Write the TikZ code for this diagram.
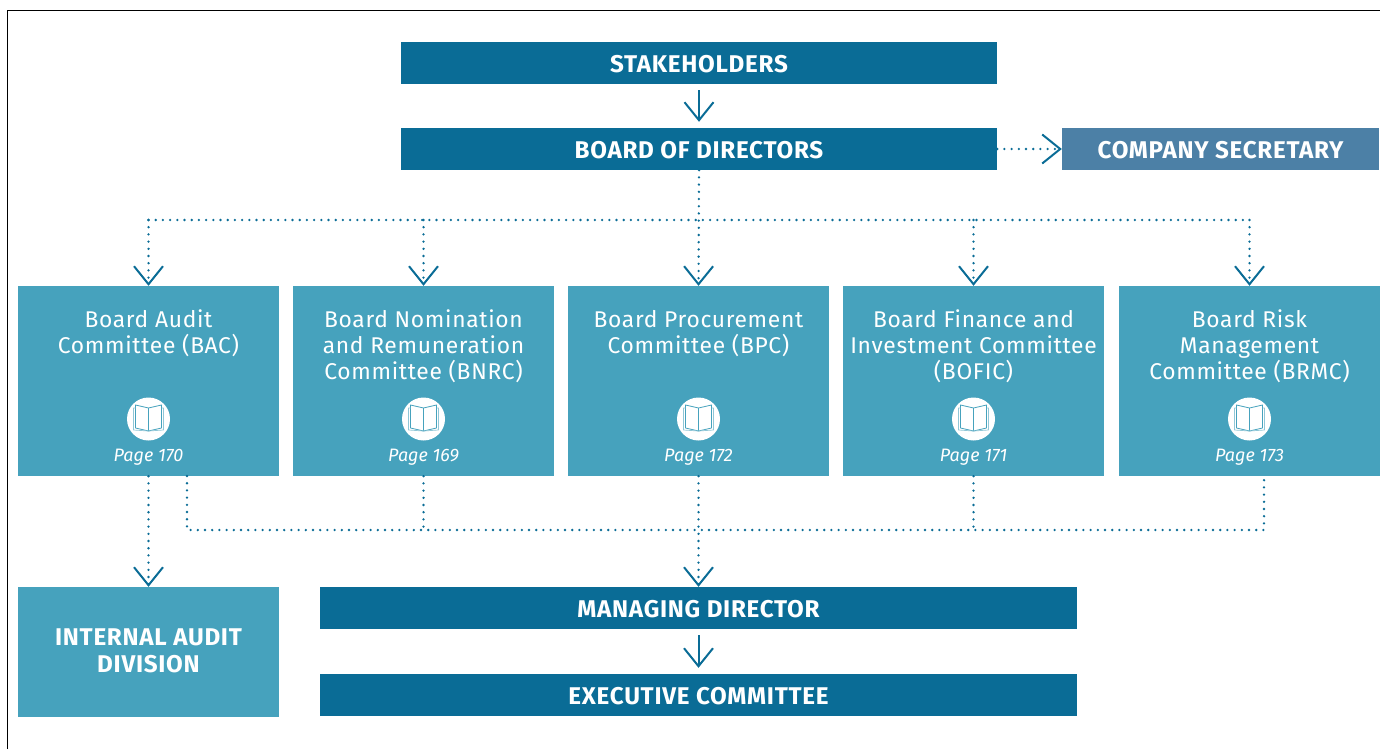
\documentclass[tikz,border=0pt]{standalone}
\usepackage{fontspec}
\setmainfont{Fira Sans}
\newfontfamily\dinfont[LetterSpace=3]{Fira Sans}
\usetikzlibrary{arrows.meta}
\definecolor{darkblue}{HTML}{0A6C96}
\definecolor{midblue}{HTML}{46A2BD}
\definecolor{greyblue}{HTML}{4C80A6}
\tikzset{
  headbox/.style={fill=darkblue, text=white, minimum height=42pt, inner sep=0pt, text height=20pt, text depth=1.5pt, font=\dinfont\bfseries\fontsize{24.2}{27}\selectfont},
  lightbox/.style={fill=midblue, minimum width=261pt, inner sep=0pt},
  vtip/.style={-{Straight Barb[length=18pt,width=29pt,line width=2pt]}},
  solidline/.style={draw=darkblue, line width=2pt, vtip},
  dotline/.style={draw=darkblue, line width=2.6pt, line cap=round, dash pattern=on 0pt off 7.2pt},
  dotarrow/.style={dotline, vtip},
  pics/bookicon/.style={code={
    \fill[white] (0,0) circle(21.5);
    \draw[midblue, line width=0.8pt, line join=round] (0,-11) -- (0,12) (0,-11) -- (-13,-14) -- (-13,9) -- (0,12) -- (13,9) -- (13,-14) -- (0,-11);
    \draw[midblue!60, line width=0.7pt, line join=round] (-13,-11) -- (-15,-11) -- (-15,11) -- (0,12) -- (15,11) -- (15,-11) -- (13,-11);
  }}
}
\begin{document}
\begin{tikzpicture}[x=1pt,y=-1pt]
  \useasboundingbox (0,0) rectangle (1380,749);

  % Frame
  \draw[line width=1pt] (7.5,749) -- (7.5,10.5) -- (1380,10.5);

  % Top boxes
  \node[headbox, minimum width=596pt] (stakeholders) at (699,63) {STAKEHOLDERS};
  \node[headbox, minimum width=596pt] (board) at (699,149) {BOARD OF DIRECTORS};
  \node[headbox, minimum width=317pt, fill=greyblue] (secretary) at (1220.5,149) {COMPANY SECRETARY};

  % Committees
  \foreach \name/\xpos/\title/\page in {
    bac/148.5/{Board Audit\\Committee (BAC)}/170,
    bnrc/423.5/{Board Nomination\\and Remuneration\\Committee (BNRC)}/169,
    bpc/698.5/{Board Procurement\\Committee (BPC)}/172,
    bofic/973.5/{Board Finance and\\Investment Committee\\(BOFIC)}/171,
    brmc/1249.5/{Board Risk\\Management\\Committee (BRMC)}/173}{
    \node[lightbox, minimum height=190pt] (\name) at (\xpos,381) {};
    \node[text=white, align=center, anchor=north, inner sep=0pt, font=\dinfont\fontsize{22.8}{26}\selectfont] (\name title) at (\xpos,309) {\rule{0pt}{18pt}\title};
    \pic at (\xpos,419) {bookicon};
    \node[text=white, inner sep=0pt, font=\itshape\fontsize{18}{21}\selectfont] (\name page) at (\xpos,457) {Page \page};
  }

  % Bottom boxes
  \node[lightbox, minimum height=130pt, text=white, align=center, text depth=3pt, font=\dinfont\bfseries\fontsize{24.2}{27}\selectfont] (audit) at (148.5,652) {INTERNAL AUDIT\\DIVISION};
  \node[headbox, minimum width=757pt] (md) at (698.5,608) {MANAGING DIRECTOR};
  \node[headbox, minimum width=757pt] (exco) at (698.5,695) {EXECUTIVE COMMITTEE};

  % Helper points of the two bus lines
  \coordinate (bustopl) at (bac.north |- 0,220);
  \coordinate (bustopr) at (brmc.north |- 0,220);
  \coordinate (busbotl) at (187,476);
  \coordinate (busbotr) at (1264,476);

  % Solid arrows
  \draw[solidline, shorten <=6pt, shorten >=6pt] (stakeholders.south -| board.south) -- (board.north);
  \draw[solidline, shorten <=6pt, shorten >=6pt] (md.south) -- (exco.north);

  % Dotted arrows
  \draw[dotarrow] (board.east) -- (secretary.west);
  \draw[dotarrow] (board.south) -- (bpc.north);
  \draw[dotarrow] (bustopl) -- (bac.north);
  \draw[dotarrow] (bnrc.north |- bustopl) -- (bnrc.north);
  \draw[dotarrow] (bofic.north |- bustopl) -- (bofic.north);
  \draw[dotarrow] (bustopr) -- (brmc.north);
  \draw[dotline] (bustopl) -- (bustopr);

  \draw[dotarrow] (bac.south) -- (audit.north);
  \draw[dotarrow] (bpc.south) -- (md.north);
  \draw[dotline] (busbotl) |- (busbotr |- 0,530) -- (busbotr);
  \draw[dotline] (bnrc.south) -- (bnrc.south |- 0,530);
  \draw[dotline] (bofic.south) -- (bofic.south |- 0,530);
\end{tikzpicture}
\end{document}
